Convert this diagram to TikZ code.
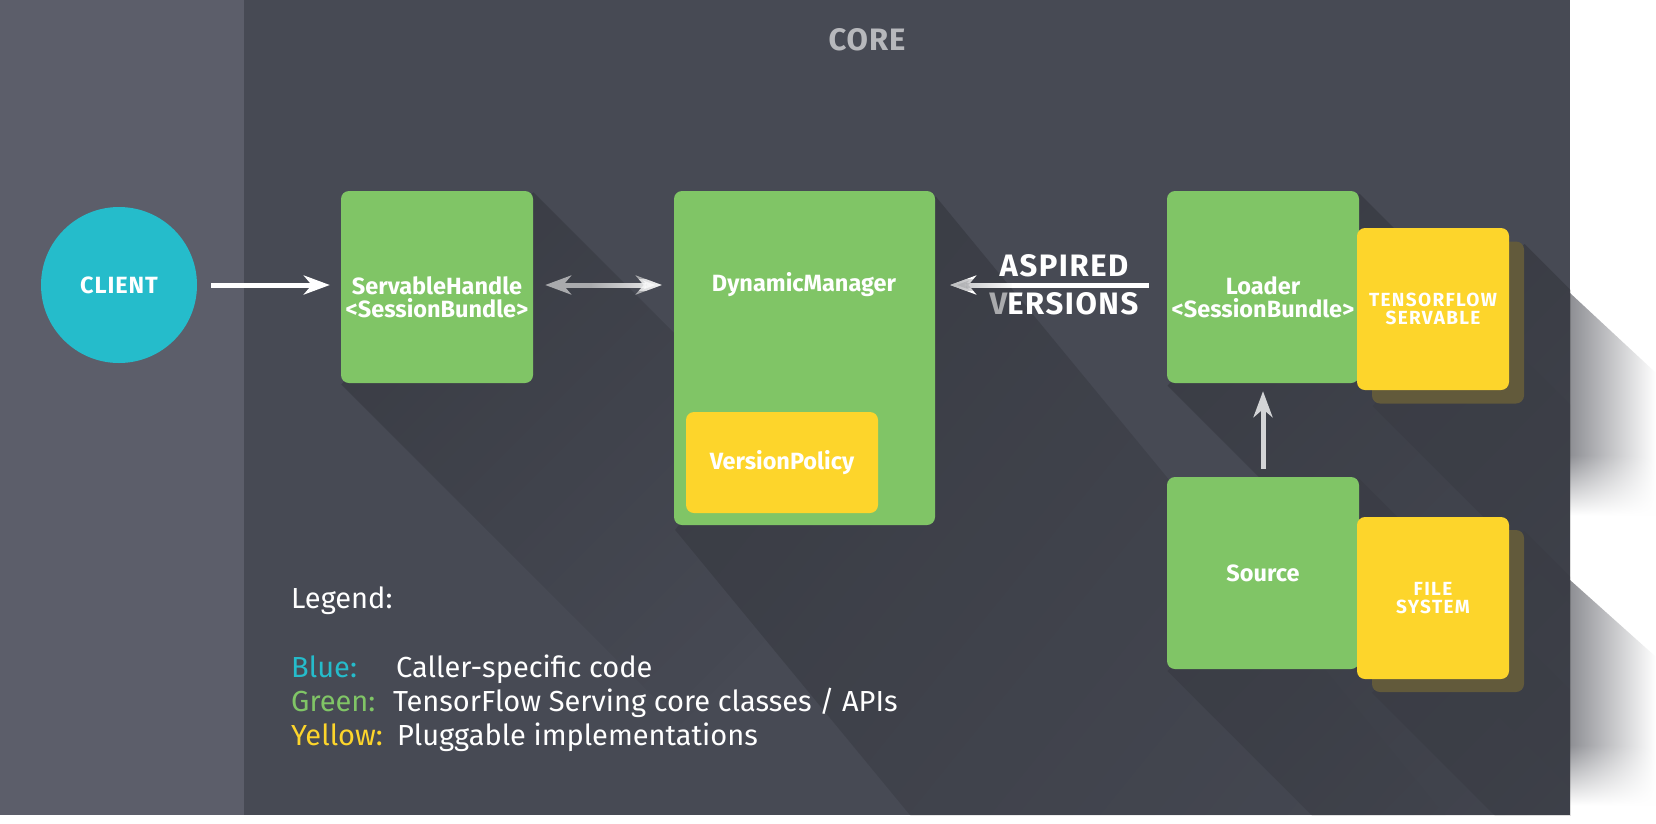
\documentclass[tikz,border=0pt]{standalone}
\usepackage{fontspec}
\setmainfont{Fira Sans}
\usepackage{xcolor}
\usetikzlibrary{arrows.meta,fadings,calc}
\definecolor{panel}{HTML}{474a54}
\definecolor{sidepanel}{HTML}{5c5e6a}
\definecolor{tfgreen}{HTML}{80c566}
\definecolor{tfyellow}{HTML}{fdd52b}
\definecolor{tfolive}{HTML}{625a3b}
\definecolor{tfblue}{HTML}{25bccb}
\definecolor{coregray}{HTML}{b7b8bc}
\definecolor{arrowgray}{HTML}{a9aaad}
\definecolor{lightarrow}{HTML}{d3d4d6}
\definecolor{whiteshade}{HTML}{8e8f94}
\newcommand{\lblfont}{\bfseries\fontsize{23.5}{23}\selectfont}
\newcommand{\clientfont}{\bfseries\fontsize{23.5}{23}\selectfont\addfontfeatures{LetterSpace=4}}
\newcommand{\capsfont}{\bfseries\fontsize{19}{18.5}\selectfont\addfontfeatures{LetterSpace=7}}
\newcommand{\corefont}{\bfseries\fontsize{31}{30}\selectfont\addfontfeatures{LetterSpace=3}}
\newcommand{\aspiredfont}{\bfseries\fontsize{31}{30}\selectfont\addfontfeatures{LetterSpace=5}}
\newcommand{\legendfont}{\fontsize{29}{34}\selectfont}
\tikzfading[name=shadowfade, top color=transparent!0, bottom color=transparent!100]
\newcommand{\longshadow}[3]{\fill[black, path fading=shadowfade, fading angle=45] (#1.north east) -- ++(#2,#3) -- ($(#1.south west)+(#2,#3)$) -- (#1.south west) -- cycle;}
\pgfdeclarelayer{bg}
\pgfdeclarelayer{shade}
\pgfsetlayers{bg,shade,main}

\begin{document}
\begin{tikzpicture}[x=1pt,y=1pt,yscale=-1,
	>={Stealth[length=26pt, width=19pt, inset=8pt]},
	box/.style={rounded corners=8pt, inner sep=0pt, minimum width=192pt, minimum height=192pt},
	greenbox/.style={box, fill=tfgreen},
	plugbox/.style={box, fill=tfyellow, minimum width=152pt, minimum height=162pt},
	backbox/.style={plugbox, fill=tfolive},
	lbl/.style={text=white, font=\lblfont, align=center, inner sep=0pt},
	caps/.style={text=white, font=\capsfont, align=center, inner sep=0pt},
	legend/.style={font=\legendfont, anchor=base west, inner sep=0pt, text=white},
	flow/.style={line width=5pt, ->}]
	\node[circle, fill=tfblue, minimum size=156pt, inner sep=0pt, text=white, font=\clientfont] (client) at (119,285) {CLIENT};
	\node[greenbox] (handle) at (437,287) {};
	\node[lbl] (handletext) at (437,297) {ServableHandle\\<SessionBundle>};
	\node[greenbox, minimum width=261pt, minimum height=334pt] (manager) at (804.5,358) {};
	\node[lbl] (managertext) at (804,285) {DynamicManager};
	\node[plugbox, minimum width=192pt, minimum height=101pt, text=white, font=\lblfont] (policy) at (782,462.5) {VersionPolicy};
	\node[greenbox] (loader) at (1263,287) {};
	\node[lbl] (loadertext) at (1263,297) {Loader\\<SessionBundle>};
	\node[backbox] (servableback) at (1448,322.5) {};
	\node[plugbox, caps] (servable) at (1433,309) {TENSORFLOW\\SERVABLE};
	\node[greenbox, lbl] (source) at (1263,573) {Source};
	\node[backbox] (fsback) at (1448,611) {};
	\node[plugbox, caps] (filesystem) at (1433,598) {FILE\\SYSTEM};
	\node[font=\corefont, text=coregray] (core) at (867,40) {CORE};
	\node[font=\aspiredfont, text=white, inner sep=0pt] (aspired) at (1064,266) {ASPIRED};
	\node[font=\aspiredfont, text=white, inner sep=0pt] (versions) at (1064,304) {\textcolor{arrowgray}{V}ERSIONS};
	\coordinate (pairfade) at (592,285);
	\coordinate (aspfade) at (1012,285);
	\draw[flow, white, shorten <=14pt, shorten >=11pt] (client.east) -- (client.east -| handle.west);
	\draw[line width=5pt, arrowgray, <->, shorten <=12pt, shorten >=12pt] (client -| handle.east) -- (client -| manager.west);
	\draw[flow, white, shorten >=12pt, path fading=west] (pairfade) -- (client -| manager.west);
	\draw[flow, white, shorten <=18pt, shorten >=15pt] (client -| loader.west) -- (client -| manager.east);
	\draw[flow, arrowgray, shorten >=15pt, path fading=east] (aspfade) -- (client -| manager.east);
	\draw[flow, lightarrow, shorten <=8pt, shorten >=8pt] (source) -- (loader);
	\node[legend] (legendtitle) at (291,608) {Legend:};
	\node[legend, text=tfblue] (bluekey) at (291,677) {Blue:};
	\node[legend] (bluetext) at (396,677) {Caller-specific code};
	\node[legend, text=tfgreen] (greenkey) at (291,711) {Green:};
	\node[legend] (greentext) at (393,711) {TensorFlow Serving core classes / APIs};
	\node[legend, text=tfyellow] (yellowkey) at (291,745) {Yellow:};
	\node[legend] (yellowtext) at (397,745) {Pluggable implementations};
	\begin{pgfonlayer}{bg}
	\fill[white] (0,0) rectangle (1656,823);
	\fill[sidepanel] (0,0) rectangle (244,815);
	\fill[panel] (244,0) rectangle (1570,815);
	\shade[left color=whiteshade, right color=white] (1570,293) -- (1656,373) -- (1656,455) -- (1570,455) -- cycle;
	\shade[left color=whiteshade, right color=white, path fading=south] (1570,455) rectangle (1656,515);
	\shade[left color=whiteshade, right color=white] (1570,580) -- (1656,657) -- (1656,745) -- (1570,745) -- cycle;
	\shade[left color=whiteshade, right color=white, path fading=south] (1570,745) rectangle (1656,805);
	\end{pgfonlayer}
	\begin{pgfonlayer}{shade}
	\begin{scope}
	\clip (244,0) rectangle (1570,815);
	\begin{scope}[transparency group, opacity=0.17]
	\longshadow{handle}{340}{340}
	\longshadow{manager}{560}{680}
	\longshadow{loader}{450}{450}
	\longshadow{servableback}{450}{450}
	\longshadow{source}{420}{420}
	\longshadow{fsback}{420}{420}
	\end{scope}
	\end{scope}
	\end{pgfonlayer}
\end{tikzpicture}
\end{document}
